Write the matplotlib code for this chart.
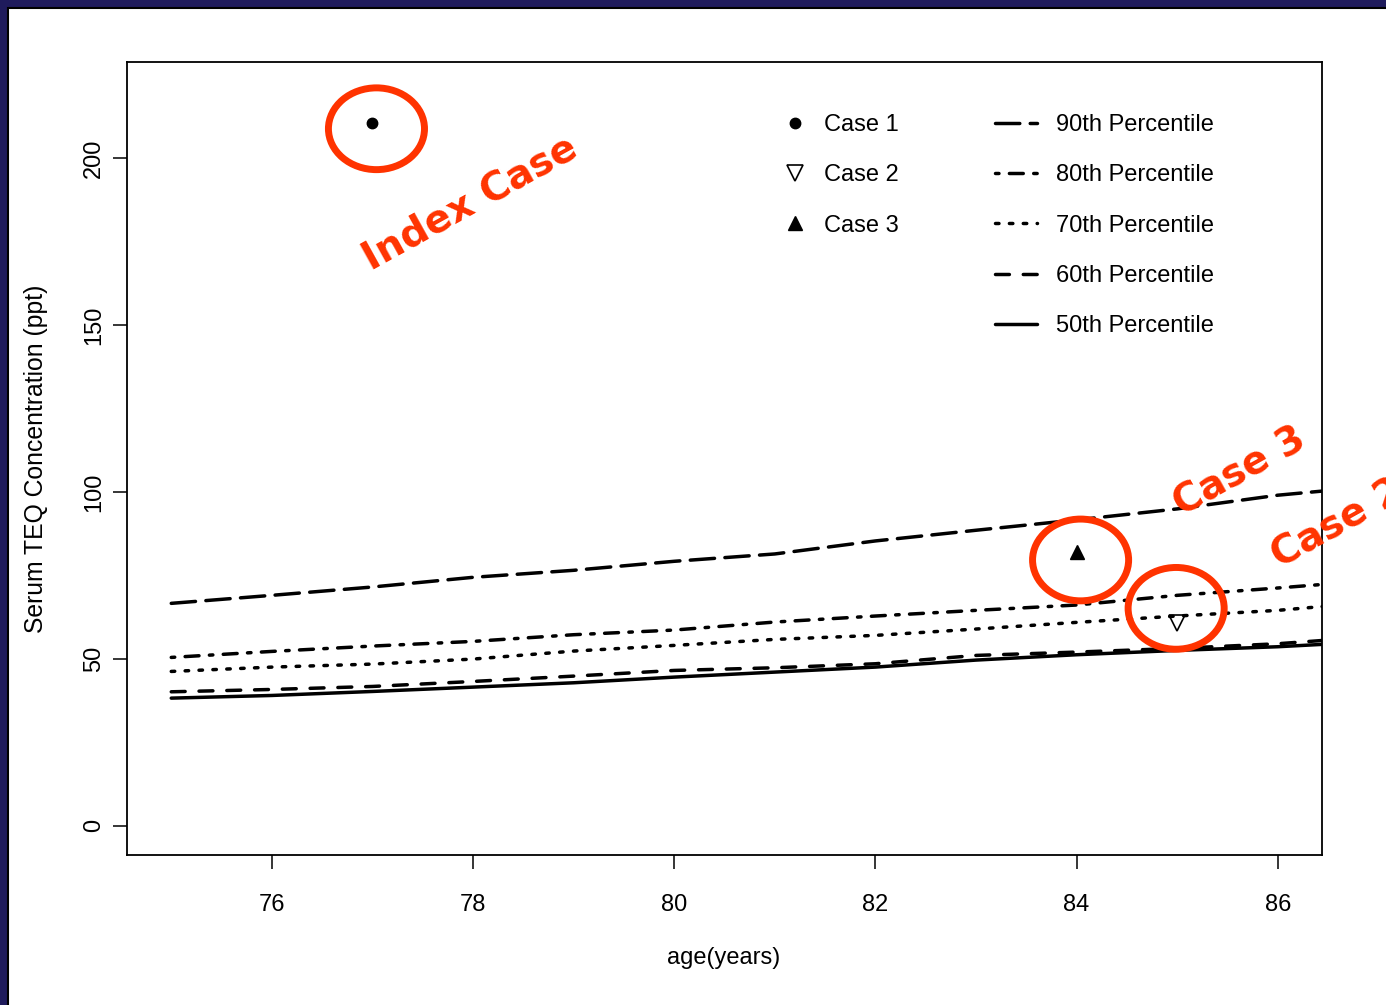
import matplotlib
matplotlib.use("Agg")
import matplotlib.pyplot as plt
from matplotlib.patches import Ellipse, Rectangle

# ---------------- data ----------------
ages = [75, 76, 77, 78, 79, 80, 81, 82, 83, 84, 85, 86, 86.5]
p90 = [66.6, 69.0, 71.5, 74.4, 76.5, 79.2, 81.4, 85.3, 88.5, 91.6, 94.9, 99.0, 100.4]
p80 = [50.4, 52.2, 53.8, 55.2, 57.2, 58.6, 61.0, 62.8, 64.5, 66.1, 69.0, 71.2, 72.4]
p70 = [46.2, 47.5, 48.4, 49.9, 52.3, 54.0, 55.8, 57.0, 58.9, 60.9, 62.8, 64.5, 65.8]
p60 = [40.1, 40.8, 41.7, 43.2, 44.8, 46.5, 47.3, 48.5, 51.0, 52.0, 53.1, 54.5, 55.6]
p50 = [38.2, 39.0, 40.2, 41.5, 42.8, 44.5, 46.0, 47.5, 49.6, 51.2, 52.5, 53.6, 54.4]

case_names = ["Case 1", "Case 2", "Case 3"]
case_age = [77.0, 85.0, 84.0]
case_teq = [210.5, 60.7, 82.0]

pct_names = ["90th Percentile", "80th Percentile", "70th Percentile",
             "60th Percentile", "50th Percentile"]

x_ticks = [76, 78, 80, 82, 84, 86]
y_ticks = [0, 50, 100, 150, 200]

# annotation circles (centres) and labels
circle_x = [77.04, 84.04, 84.99]
circle_y = [208.8, 79.6, 65.1]
note_text = ["Index Case", "Case 3", "Case 2"]

# ---------------- figure ----------------
W, H = 1386, 1005
fig = plt.figure(figsize=(W / 100, H / 100), dpi=100, facecolor="#1f1b5c")
fig.patches.append(Rectangle((8 / W, -0.1), 1.2, 1.1 - 8 / H,
                             transform=fig.transFigure, facecolor="white",
                             edgecolor="black", lw=1.5, zorder=-1))

ax = fig.add_axes([127 / W, 1 - 855 / H, (1322 - 127) / W, (855 - 62) / H])
ax.set_facecolor("white")

FONT = "Liberation Sans"
FS = 17
RED = "#ff3300"

lw = 2.5
styles = [
    dict(dashes=(7, 3)),          # longdash
    dict(dashes=(1, 3, 4, 3)),    # dotdash
    dict(dashes=(1, 3)),          # dotted
    dict(dashes=(4, 4)),          # dashed
    dict(linestyle="-"),          # solid
]
series = [p90, p80, p70, p60, p50]
line_handles = []
for vals, st, name in zip(series, styles, pct_names):
    ln, = ax.plot(ages, vals, color="black", lw=lw, dash_capstyle="round",
                  solid_capstyle="round", label=name, **st)
    line_handles.append(ln)

# points
h1, = ax.plot([case_age[0]], [case_teq[0]], "o", color="black", ms=7.5,
              label=case_names[0])
h2, = ax.plot([case_age[1]], [case_teq[1]], "v", mfc="none", mec="black",
              mew=1.2, ms=11, label=case_names[1])
h3, = ax.plot([case_age[2]], [case_teq[2]], "^", color="black", ms=9.5,
              label=case_names[2])

ax.set_xlim(74.56, 86.44)
ax.set_ylim(-8.8, 228.8)
ax.set_xticks(x_ticks)
ax.set_yticks(y_ticks)
ax.set_xticklabels([str(v) for v in x_ticks], fontfamily=FONT, fontsize=FS)
ax.set_yticklabels([str(v) for v in y_ticks], fontfamily=FONT, fontsize=FS,
                   rotation=90, va="center")
ax.tick_params(axis="x", length=10, width=1.1, pad=18)
ax.tick_params(axis="y", length=10, width=1.1, pad=6)
for sp in ax.spines.values():
    sp.set_linewidth(1.3)

fig.text(36 / W, 1 - 459 / H, "Serum TEQ Concentration (ppt)", rotation=90,
         ha="center", va="center", fontfamily=FONT, fontsize=17.8)
fig.text(724 / W, 1 - 958 / H, "age(years)", ha="center", va="center",
         fontfamily=FONT, fontsize=FS)

# legends
leg1 = ax.legend(handles=[h1, h2, h3], labels=case_names, loc="upper left",
                 bbox_to_anchor=(783 / W, 1 - 114 / H),
                 bbox_transform=fig.transFigure, frameon=False,
                 prop={"family": FONT, "size": FS}, handlelength=1.0,
                 handletextpad=0.75, labelspacing=1.2, borderpad=0,
                 borderaxespad=0)
ax.add_artist(leg1)
leg2 = ax.legend(handles=line_handles, labels=pct_names, loc="upper left",
                 bbox_to_anchor=(995 / W, 1 - 114 / H),
                 bbox_transform=fig.transFigure, frameon=False,
                 prop={"family": FONT, "size": FS}, handlelength=1.78,
                 handletextpad=0.8, labelspacing=1.2, borderpad=0,
                 borderaxespad=0)

# red annotations
for cx, cy in zip(circle_x, circle_y):
    ax.add_patch(Ellipse((cx, cy), 0.955, 24.5, fill=False, edgecolor=RED,
                         lw=5, clip_on=False, zorder=5))

tkw = dict(color=RED, fontsize=28, fontweight="bold", family="DejaVu Sans",
           rotation_mode="anchor", clip_on=False, zorder=6)
ax.text(77.97, 186.5, note_text[0], ha="center", va="center", rotation=29, **tkw)
ax.text(84.99, 95.6, note_text[1], ha="left", va="center", rotation=29, **tkw)
ax.text(85.97, 80.0, note_text[2], ha="left", va="center", rotation=29, **tkw)

fig.savefig("out.png", dpi=100, facecolor=fig.get_facecolor())
